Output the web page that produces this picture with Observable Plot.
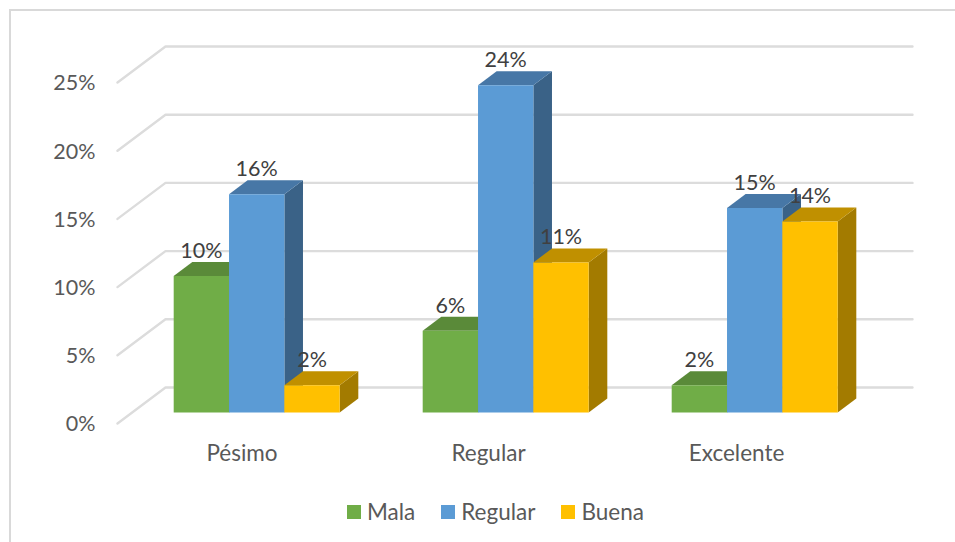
<!DOCTYPE html>
<html>
<head>
<meta charset="utf-8">
<script src="https://cdn.jsdelivr.net/npm/d3@7"></script>
<script src="https://cdn.jsdelivr.net/npm/@observablehq/plot@0.6"></script>
<style>
  html, body { margin: 0; padding: 0; background: #fff; }
  #chart { position: relative; width: 955px; height: 542px; overflow: hidden; font-family: Lato, sans-serif; }
  #frame { position: absolute; left: 9px; top: 9px; width: 960px; height: 560px; border-left: 2px solid #d9d9d9; border-top: 2px solid #d9d9d9; }
  #plot, #legend { position: relative; }
  #plot svg { display: block; }
  #legend { display: flex; justify-content: flex-start; padding-left: 347px; height: 47px; box-sizing: border-box; margin-top: -1px; }
  .lg-swatch { margin-right: 26px !important; }
  .lg-swatch > svg { margin-right: 6px !important; }
</style>
</head>
<body>
<div id="chart"><div id="frame"></div><div id="plot"></div><div id="legend"></div></div>
<script>
const categories = ["Pésimo", "Regular", "Excelente"];
const categoryLabelPositions = [0.5, 1.49, 2.486];
const seriesNames = ["Mala", "Regular", "Buena"];
const mala = [10, 6, 2];
const regular = [16, 24, 15];
const buena = [2, 11, 14];
const yTicks = [0, 5, 10, 15, 20, 25];
const frontColors = ["#70ad47", "#5b9bd5", "#ffc000"];
const topColors = ["#5a8a39", "#4777a6", "#c09000"];
const sideColors = ["#4d7731", "#3a6287", "#a37b00"];

// Oblique projection, in data units: depth d runs 0 (front of floor) to 1 (back wall)
const depthX = 0.1928, depthY = 2.64, barW = 0.2222, gap = 0.1667, dFront = 0.306, dBack = 0.694;
const P = (cx, v, d) => ({x: cx + d * depthX, y: v + d * depthY});

const seriesValues = [mala, regular, buena];
const gridLines = yTicks.map(v => [P(0, v, 0), P(0, v, 1), P(categories.length, v, 1)]);

const barMarks = [];
const labels = [];
categories.forEach((cat, c) => {
  seriesValues.forEach((vals, s) => {
    const v = vals[c];
    const x0 = c + gap + s * barW, x1 = x0 + barW;
    const front = [P(x0, 0, dFront), P(x1, 0, dFront), P(x1, v, dFront), P(x0, v, dFront)];
    const top = [P(x0, v, dFront), P(x1, v, dFront), P(x1, v, dBack), P(x0, v, dBack)];
    const side = [P(x1, 0, dFront), P(x1, 0, dBack), P(x1, v, dBack), P(x1, v, dFront)];
    for (const [face, color] of [[side, sideColors[s]], [top, topColors[s]], [front, frontColors[s]]]) {
      barMarks.push(Plot.line(face, {x: "x", y: "y", fill: color, stroke: "none", curve: "linear-closed"}));
    }
    labels.push({...P((x0 + x1) / 2, v, dFront), text: v + "%"});
  });
});

const chart = Plot.plot({
  width: 955,
  height: 495,
  marginLeft: 117,
  marginRight: 43,
  marginTop: 46,
  marginBottom: 72,
  style: {background: "transparent", fontFamily: "Lato, sans-serif"},
  x: {type: "linear", domain: [0, categories.length + depthX]},
  y: {type: "linear", domain: [0, 25 + depthY]},
  marks: [
    gridLines.map(g => Plot.line(g, {x: "x", y: "y", stroke: "#dcdcdc", strokeWidth: 2.4})),
    barMarks,
    Plot.axisY({ticks: yTicks, tickSize: 0, tickPadding: 22, tickFormat: d => d + "%", label: null, fontSize: 21.5, fill: "#595959", dy: 1}),
    Plot.axisX({ticks: categoryLabelPositions, tickSize: 0, tickPadding: 22, tickFormat: (d, i) => categories[i], label: null, fontSize: 22.5, fill: "#595959"}),
    Plot.text(labels, {x: "x", y: "y", text: "text", dy: -25, fontSize: 21.5, fill: "#404040"})
  ]
});
document.getElementById("plot").appendChild(chart);

const legend = Plot.legend({
  color: {domain: seriesNames, range: frontColors, type: "ordinal"},
  swatchSize: 14,
  className: "lg",
  style: {fontSize: "22.5px", color: "#595959", fontFamily: "Lato, sans-serif"}
});
document.getElementById("legend").appendChild(legend);
</script>
</body>
</html>
